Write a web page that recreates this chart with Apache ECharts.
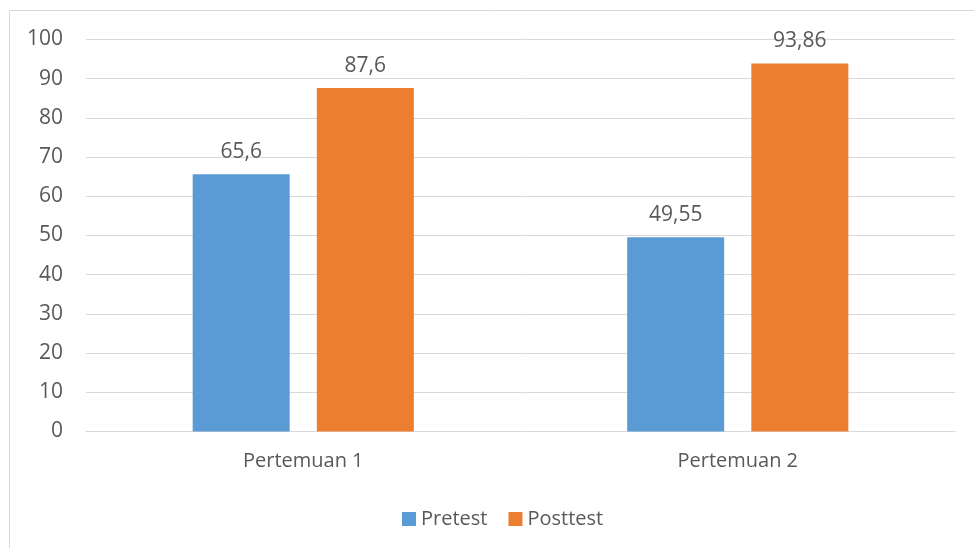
<!DOCTYPE html>
<html>
<head>
<meta charset="utf-8">
<script src="https://cdn.jsdelivr.net/npm/echarts@6/dist/echarts.min.js"></script>
<style>
html,body{margin:0;padding:0;background:#fff;}
#c{width:974px;height:548px;}
</style>
</head>
<body>
<div id="c"></div>
<script>
var categories = ['Pertemuan 1', 'Pertemuan 2'];
var pretest = [65.6, 49.55];
var posttest = [87.6, 93.86];
var seriesNames = ['Pretest', 'Posttest'];
var yTicks = [0, 10, 20, 30, 40, 50, 60, 70, 80, 90, 100];

var FONT = '"Open Sans", "Noto Sans", sans-serif';
var TXT = '#595959';
var chart = echarts.init(document.getElementById('c'), null, {renderer: 'canvas'});

function fmt(p) { return String(p.value).replace('.', ','); }

chart.setOption({
  animation: false,
  backgroundColor: '#ffffff',
  textStyle: {fontFamily: FONT},
  graphic: [{
    type: 'rect',
    shape: {x: 9.5, y: 10.5, width: 1000, height: 600},
    style: {fill: 'none', stroke: '#d9d9d9', lineWidth: 1},
    silent: true
  }],
  grid: {left: 86, right: 19, top: 39.5, bottom: 116.5, containLabel: false},
  legend: {
    data: seriesNames,
    left: 397,
    top: 504,
    itemWidth: 14,
    itemHeight: 14,
    itemGap: 21,
    icon: 'rect',
    textStyle: {fontFamily: FONT, fontSize: 20, color: TXT}
  },
  xAxis: {
    type: 'category',
    data: categories,
    axisLine: {lineStyle: {color: '#d9d9d9', width: 1}},
    axisTick: {show: false},
    axisLabel: {fontFamily: FONT, fontSize: 20, color: TXT, margin: 20}
  },
  yAxis: {
    type: 'value',
    min: yTicks[0],
    max: yTicks[yTicks.length - 1],
    interval: 10,
    axisLine: {show: false},
    axisTick: {show: false},
    splitLine: {lineStyle: {color: '#d9d9d9', width: 1}},
    axisLabel: {fontFamily: FONT, fontSize: 21, color: TXT, margin: 23}
  },
  series: [{
    name: seriesNames[0],
    type: 'bar',
    data: pretest,
    barWidth: 97,
    barGap: '28%',
    itemStyle: {color: '#5B9BD5'},
    label: {show: true, position: 'top', distance: 12, fontFamily: FONT, fontSize: 21, color: TXT, formatter: fmt}
  }, {
    name: seriesNames[1],
    type: 'bar',
    data: posttest,
    barWidth: 97,
    barGap: '28%',
    itemStyle: {color: '#ED7D31'},
    label: {show: true, position: 'top', distance: 12, fontFamily: FONT, fontSize: 21, color: TXT, formatter: fmt}
  }]
});
</script>
</body>
</html>
